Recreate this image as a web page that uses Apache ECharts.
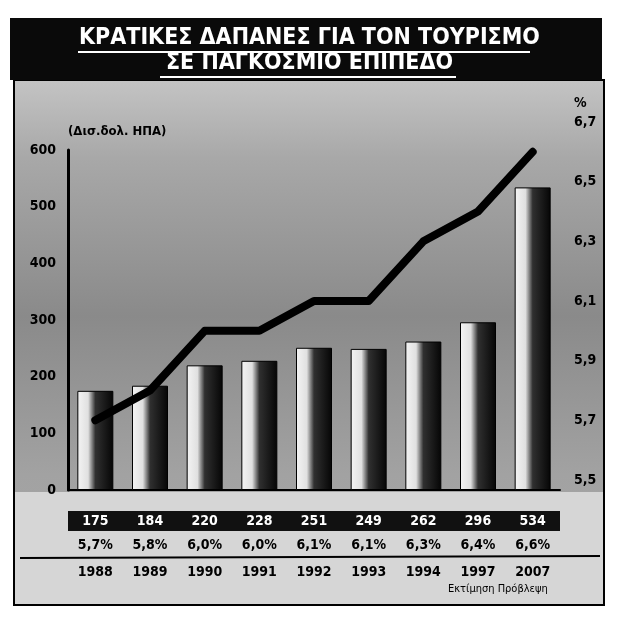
<!DOCTYPE html>
<html>
<head>
<meta charset="utf-8">
<script src="https://cdn.jsdelivr.net/npm/echarts@6/dist/echarts.min.js"></script>
<style>html,body{margin:0;padding:0;background:#fff}#c{width:619px;height:620px}</style>
</head>
<body>
<div id="c"></div>
<script>
const categories = ['1988','1989','1990','1991','1992','1993','1994','1997','2007'];
const spending = [175, 184, 220, 228, 251, 249, 262, 296, 534];
const sharePct = [5.7, 5.8, 6.0, 6.0, 6.1, 6.1, 6.3, 6.4, 6.6];
const titleLines = ['ΚΡΑΤΙΚΕΣ ΔΑΠΑΝΕΣ ΓΙΑ ΤΟΝ ΤΟΥΡΙΣΜΟ', 'ΣΕ ΠΑΓΚΟΣΜΙΟ ΕΠΙΠΕΔΟ'];
const unitLeft = '(Δισ.δολ. ΗΠΑ)';
const unitRight = '%';
const sourceNote = 'Εκτίμηση Πρόβλεψη';

const FONT = '"Liberation Sans Narrow","DejaVu Sans Condensed","Liberation Sans",sans-serif';
const fmtPct = v => v.toFixed(1).replace('.', ',') + '%';
const fmtAxis = v => v.toFixed(1).replace('.', ',');

const chart = echarts.init(document.getElementById('c'));
chart.setOption({
  backgroundColor: '#ffffff',
  animation: false,
  textStyle: { fontFamily: FONT },
  graphic: [
    { type: 'rect', z: -20, shape: { x: 14, y: 80, width: 590, height: 525 },
      style: { fill: { type: 'linear', x: 0, y: 0, x2: 0, y2: 1, colorStops: [
        { offset: 0, color: '#c4c4c4' }, { offset: 0.15, color: '#a8a8a8' },
        { offset: 0.45, color: '#8a8a8a' }, { offset: 0.75, color: '#a2a2a2' }, { offset: 1, color: '#a8a8a8' }] },
        stroke: '#000', lineWidth: 2 } },
    { type: 'rect', z: -19, shape: { x: 15, y: 492, width: 588, height: 112 }, style: { fill: '#d6d6d6' } },
    { type: 'rect', z: -18, shape: { x: 10, y: 18, width: 592, height: 62 }, style: { fill: '#0a0a0a' } },
    { type: 'text', z: 10, left: 'center', top: 27,
      style: { text: titleLines[0], fill: '#fff', font: 'bold 23px ' + FONT } },
    { type: 'text', z: 10, left: 'center', top: 52,
      style: { text: titleLines[1], fill: '#fff', font: 'bold 23px ' + FONT } },
    { type: 'line', z: 10, shape: { x1: 78, y1: 52, x2: 530, y2: 52 }, style: { stroke: '#fff', lineWidth: 2 } },
    { type: 'line', z: 10, shape: { x1: 160, y1: 77, x2: 456, y2: 77 }, style: { stroke: '#fff', lineWidth: 2 } },
    { type: 'rect', z: -5, shape: { x: 68, y: 511, width: 492, height: 20 }, style: { fill: '#111' } },
    { type: 'line', z: 5, shape: { x1: 20, y1: 558, x2: 600, y2: 556 }, style: { stroke: '#000', lineWidth: 2 } },
    { type: 'text', z: 10, left: 448, top: 584,
      style: { text: sourceNote, fill: '#000', font: '11px ' + FONT } }
  ],
  grid: [
    { left: 68, right: 59, top: 150, bottom: 130 },
    { left: 68, right: 59, top: 122, bottom: 140 }
  ],
  xAxis: [
    { type: 'category', gridIndex: 0, data: categories,
      axisLine: { lineStyle: { color: '#000', width: 2 } }, axisTick: { show: false },
      axisLabel: { margin: 24, color: '#fff', fontWeight: 'bold', fontSize: 14,
        formatter: (v, i) => String(spending[i]) } },
    { type: 'category', gridIndex: 0, data: categories, position: 'bottom',
      axisLine: { show: false }, axisTick: { show: false },
      axisLabel: { margin: 48, color: '#000', fontWeight: 'bold', fontSize: 14,
        formatter: (v, i) => fmtPct(sharePct[i]) } },
    { type: 'category', gridIndex: 0, data: categories, position: 'bottom',
      axisLine: { show: false }, axisTick: { show: false },
      axisLabel: { margin: 75, color: '#000', fontWeight: 'bold', fontSize: 14 } },
    { type: 'category', gridIndex: 1, data: categories, show: false }
  ],
  yAxis: [
    { type: 'value', gridIndex: 0, min: 0, max: 600, interval: 100,
      name: unitLeft, nameLocation: 'end', nameGap: 12,
      nameTextStyle: { align: 'left', color: '#000', fontWeight: 'bold', fontSize: 13 },
      axisLine: { show: true, lineStyle: { color: '#000', width: 3 } },
      axisTick: { show: false }, splitLine: { show: false },
      axisLabel: { color: '#000', fontWeight: 'bold', fontSize: 14, margin: 12 } },
    { type: 'value', gridIndex: 1, position: 'right', min: 5.5, max: 6.7, interval: 0.2,
      name: unitRight, nameLocation: 'end', nameGap: 12,
      nameTextStyle: { align: 'left', color: '#000', fontWeight: 'bold', fontSize: 14, padding: [0, 0, 0, 14] },
      axisLine: { show: false }, axisTick: { show: false }, splitLine: { show: false },
      axisLabel: { color: '#000', fontWeight: 'bold', fontSize: 14, margin: 14, formatter: fmtAxis } }
  ],
  series: [
    { type: 'bar', xAxisIndex: 0, yAxisIndex: 0, data: spending, barWidth: 36,
      itemStyle: { color: { type: 'linear', x: 0, y: 0, x2: 1, y2: 0, colorStops: [
        { offset: 0, color: '#f4f4f4' }, { offset: 0.3, color: '#e0e0e0' },
        { offset: 0.5, color: '#303030' }, { offset: 1, color: '#050505' }] },
        borderColor: '#000', borderWidth: 1 } },
    { type: 'line', xAxisIndex: 3, yAxisIndex: 1, data: sharePct, symbol: 'none',
      lineStyle: { color: '#000', width: 8, join: 'round', cap: 'round' }, z: 5 }
  ]
});
</script>
</body>
</html>
